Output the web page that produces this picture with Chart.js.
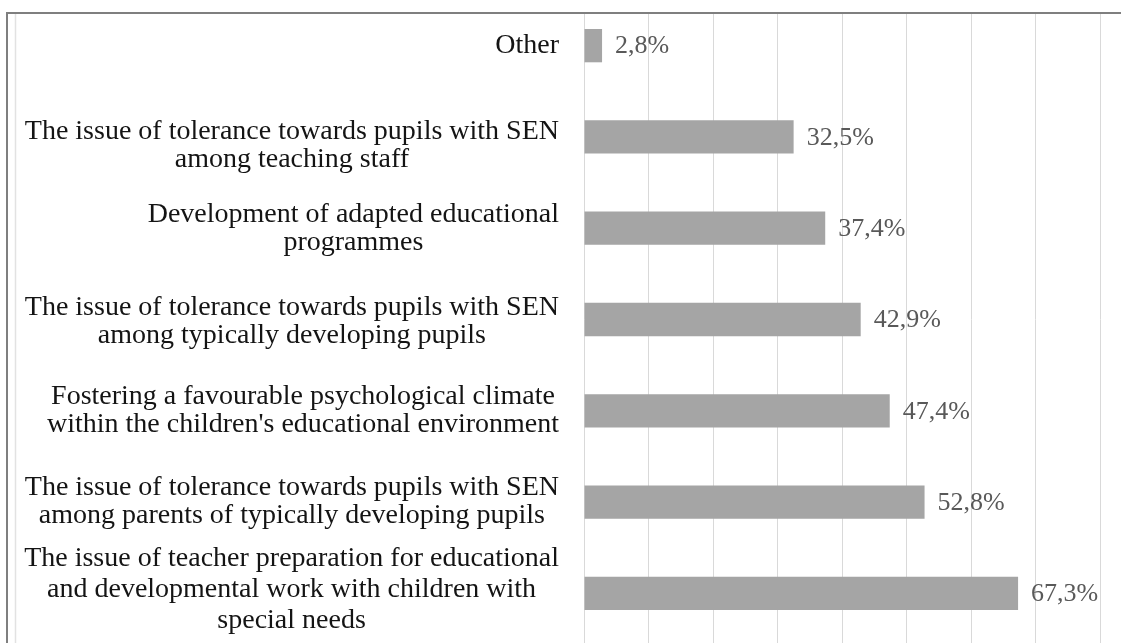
<!DOCTYPE html>
<html>
<head>
<meta charset="utf-8">
<script src="https://cdn.jsdelivr.net/npm/chart.js@4.4.1/dist/chart.umd.min.js"></script>
<style>
  html, body { margin: 0; padding: 0; background: #ffffff; }
  #wrap { position: relative; width: 1121px; height: 643px; }
  canvas { display: block; }
</style>
</head>
<body>
<div id="wrap"><canvas id="c" width="1121" height="643"></canvas></div>
<script>
const categories = [
  ["Other"],
  ["The issue of tolerance towards pupils with SEN", "among teaching staff"],
  ["Development of adapted educational", "programmes"],
  ["The issue of tolerance towards pupils with SEN", "among typically developing pupils"],
  ["Fostering a favourable psychological climate", "within the children's educational environment"],
  ["The issue of tolerance towards pupils with SEN", "among parents of typically developing pupils"],
  ["The issue of teacher preparation for educational", "and developmental work with children with", "special needs"]
];
const values = [2.8, 32.5, 37.4, 42.9, 47.4, 52.8, 67.3];
const xTicks = [0, 10, 20, 30, 40, 50, 60, 70, 80];

const FONT = "'Liberation Serif', 'Times New Roman', serif";
// label styling (vertical nudges, px)
const labelNudge = [0, 9, 0, 2, 0, 0, -4];

const framePlugin = {
  id: 'frame',
  beforeDatasetsDraw(chart) {
    const ctx = chart.ctx;
    ctx.save();
    ctx.fillStyle = '#ffffff';
    ctx.fillRect(0, 0, chart.width, 13);
    ctx.restore();
  },
  afterDraw(chart) {
    const ctx = chart.ctx;
    ctx.save();
    ctx.strokeStyle = '#7f7f7f';
    ctx.lineWidth = 2;
    ctx.beginPath();
    ctx.moveTo(6, 13); ctx.lineTo(chart.width, 13);
    ctx.moveTo(7, 13); ctx.lineTo(7, chart.height);
    ctx.stroke();
    ctx.strokeStyle = '#e2e2e2';
    ctx.lineWidth = 1.5;
    ctx.beginPath();
    ctx.moveTo(15.5, 14); ctx.lineTo(15.5, chart.height);
    ctx.stroke();
    ctx.restore();
  }
};

const labelPlugin = {
  id: 'labels',
  afterDatasetsDraw(chart) {
    const ctx = chart.ctx;
    const yScale = chart.scales.y;
    const meta = chart.getDatasetMeta(0);
    ctx.save();
    ctx.font = '28px ' + FONT;
    ctx.fillStyle = '#141414';
    ctx.textBaseline = 'middle';
    ctx.textAlign = 'center';
    const right = 559;
    categories.forEach((lines, i) => {
      const lh = lines.length > 2 ? 31 : 28;
      const yc = yScale.getPixelForValue(i) + labelNudge[i];
      const maxW = Math.max(...lines.map(l => ctx.measureText(l).width));
      const cx = right - maxW / 2;
      const y0 = yc - (lines.length - 1) * lh / 2;
      lines.forEach((l, k) => ctx.fillText(l, cx, y0 + k * lh));
    });
    ctx.font = '26px ' + FONT;
    ctx.fillStyle = '#595959';
    ctx.textAlign = 'left';
    meta.data.forEach((bar, i) => {
      const txt = values[i].toFixed(1).replace('.', ',') + '%';
      ctx.fillText(txt, bar.x + 13, bar.y + 1);
    });
    ctx.restore();
  }
};

new Chart(document.getElementById('c'), {
  type: 'bar',
  data: {
    labels: categories,
    datasets: [{
      data: values,
      backgroundColor: '#a5a5a5',
      borderWidth: 0,
      barPercentage: 0.365,
      categoryPercentage: 1.0
    }]
  },
  options: {
    indexAxis: 'y',
    responsive: false,
    animation: false,
    devicePixelRatio: 1,
    layout: { padding: { left: 584, right: 21, top: 0, bottom: 0 } },
    plugins: { legend: { display: false }, tooltip: { enabled: false } },
    scales: {
      x: {
        min: 0, max: 80,
        afterBuildTicks(scale) { scale.ticks = xTicks.map(v => ({ value: v })); },
        ticks: { display: false },
        grid: { color: '#d9d9d9', lineWidth: 1, tickLength: 4, drawTicks: true },
        border: { display: false }
      },
      y: {
        display: false,
        grid: { display: false }
      }
    }
  },
  plugins: [framePlugin, labelPlugin]
});
</script>
</body>
</html>
